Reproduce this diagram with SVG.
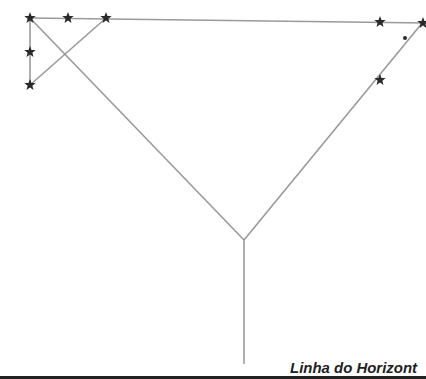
<svg xmlns="http://www.w3.org/2000/svg" width="426" height="379" viewBox="0 0 426 379">
<defs>
<style>
.ln{stroke:#9a9a9a;stroke-width:1.6;fill:none}
.st{fill:#2a2a2a}
</style>
<polygon id="star" points="0,-6 1.5,-2 5.7,-1.9 2.4,0.8 3.5,5 0,2.5 -3.5,5 -2.4,0.8 -5.7,-1.9 -1.5,-2"/>
</defs>
<rect width="426" height="379" fill="#fff"/>
<g id="connectors">
<line class="ln" x1="30" y1="18" x2="426" y2="23"/>
<line class="ln" x1="30" y1="18" x2="30" y2="85"/>
<line class="ln" x1="106" y1="18" x2="30" y2="85"/>
<line class="ln" x1="30" y1="18" x2="244" y2="240"/>
<line class="ln" x1="423" y1="22" x2="244" y2="240"/>
<line class="ln" x1="244" y1="240" x2="244" y2="364"/>
</g>
<g id="stars" class="st">
<use href="#star" x="30" y="18"/>
<use href="#star" x="68" y="18"/>
<use href="#star" x="106" y="18"/>
<use href="#star" x="30" y="52"/>
<use href="#star" x="30" y="85"/>
<use href="#star" x="380" y="22"/>
<use href="#star" x="423" y="23"/>
<use href="#star" x="380" y="80"/>
<circle cx="405" cy="38" r="2"/>
</g>
<g id="horizon">
<line x1="0" y1="377.5" x2="426" y2="377.5" stroke="#222" stroke-width="3"/>
<text x="290" y="373" font-family="Liberation Sans, Arial, sans-serif" font-size="15" font-weight="bold" font-style="italic" fill="#222" textLength="127" lengthAdjust="spacingAndGlyphs">Linha do Horizont</text>
</g>
</svg>
